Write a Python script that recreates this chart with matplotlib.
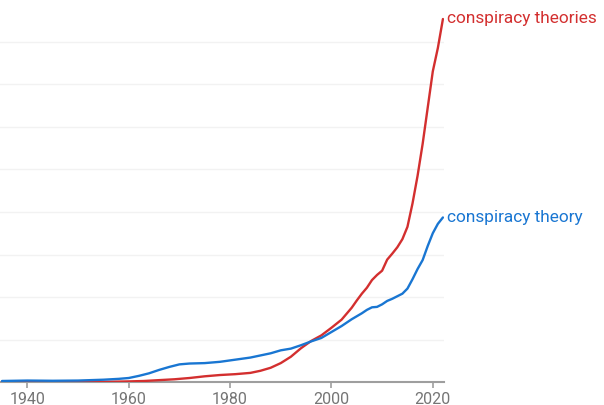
import numpy as np
import matplotlib
matplotlib.use("Agg")
import matplotlib.pyplot as plt

plt.rcParams['font.family'] = ['Roboto', 'DejaVu Sans']

# "conspiracy theories" (red)
years_theories = [1935, 1940, 1945, 1950, 1955, 1960, 1963, 1966, 1969, 1972,
                  1975, 1978, 1981, 1984, 1986, 1988, 1990, 1992, 1994, 1996,
                  1998, 2000, 2002, 2004, 2005, 2006, 2007, 2008, 2009, 2010,
                  2011, 2012, 2013, 2014, 2015, 2016, 2017, 2018, 2019, 2020,
                  2021, 2022]
vals_theories = [0.01, 0.01, 0.01, 0.01, 0.01, 0.02, 0.03, 0.05, 0.07, 0.10,
                 0.14, 0.17, 0.19, 0.22, 0.27, 0.34, 0.45, 0.60, 0.80, 0.97,
                 1.10, 1.28, 1.47, 1.75, 1.92, 2.08, 2.22, 2.40, 2.52, 2.62,
                 2.88, 3.02, 3.17, 3.36, 3.65, 4.20, 4.85, 5.60, 6.45, 7.30,
                 7.85, 8.53]

# "conspiracy theory" (blue)
years_theory = [1935, 1940, 1945, 1950, 1955, 1958, 1960, 1962, 1964, 1966,
                1968, 1970, 1972, 1975, 1978, 1981, 1984, 1986, 1988, 1990,
                1992, 1994, 1996, 1998, 2000, 2002, 2004, 2005, 2006, 2007,
                2008, 2009, 2010, 2011, 2012, 2013, 2014, 2015, 2016, 2017,
                2018, 2019, 2020, 2021, 2022]
vals_theory = [0.03, 0.04, 0.035, 0.04, 0.06, 0.08, 0.10, 0.15, 0.21, 0.29,
               0.36, 0.42, 0.44, 0.45, 0.48, 0.53, 0.58, 0.63, 0.68, 0.75,
               0.79, 0.87, 0.96, 1.04, 1.18, 1.32, 1.48, 1.55, 1.62, 1.70,
               1.76, 1.77, 1.83, 1.91, 1.96, 2.02, 2.08, 2.20, 2.42, 2.66,
               2.87, 3.20, 3.50, 3.72, 3.87]

series = [
    ("conspiracy theories", years_theories, vals_theories, "#d32f2f"),
    ("conspiracy theory", years_theory, vals_theory, "#1976d2"),
]
xticks = [1940, 1960, 1980, 2000, 2020]

fig = plt.figure(figsize=(6.04, 4.06), dpi=100)
ax = fig.add_axes([0, 0.056, 0.735, 0.944])

for label, xs, ys, color in series:
    ax.plot(xs, ys, color=color, lw=1.7, solid_capstyle='round', zorder=3)
    ax.annotate(label, xy=(xs[-1], ys[-1]), xytext=(3, 1),
                textcoords='offset points', va='center', ha='left',
                color=color, fontsize=12.4, annotation_clip=False)

ax.set_xlim(1934.6, 2022.2)
ax.set_ylim(0, 9)
ax.set_yticks(range(1, 9))
ax.yaxis.grid(True, color='#f2f2f2', lw=1)
ax.tick_params(axis='y', left=False, labelleft=False)
ax.set_xticks(xticks)
ax.tick_params(axis='x', colors='#9e9e9e', labelcolor='#757575',
               length=4, width=1.2, labelsize=11.5, pad=2)
for side in ['top', 'right', 'left']:
    ax.spines[side].set_visible(False)
ax.spines['bottom'].set_color('#9e9e9e')
ax.spines['bottom'].set_linewidth(1.5)

fig.savefig("out.png", dpi=100)
